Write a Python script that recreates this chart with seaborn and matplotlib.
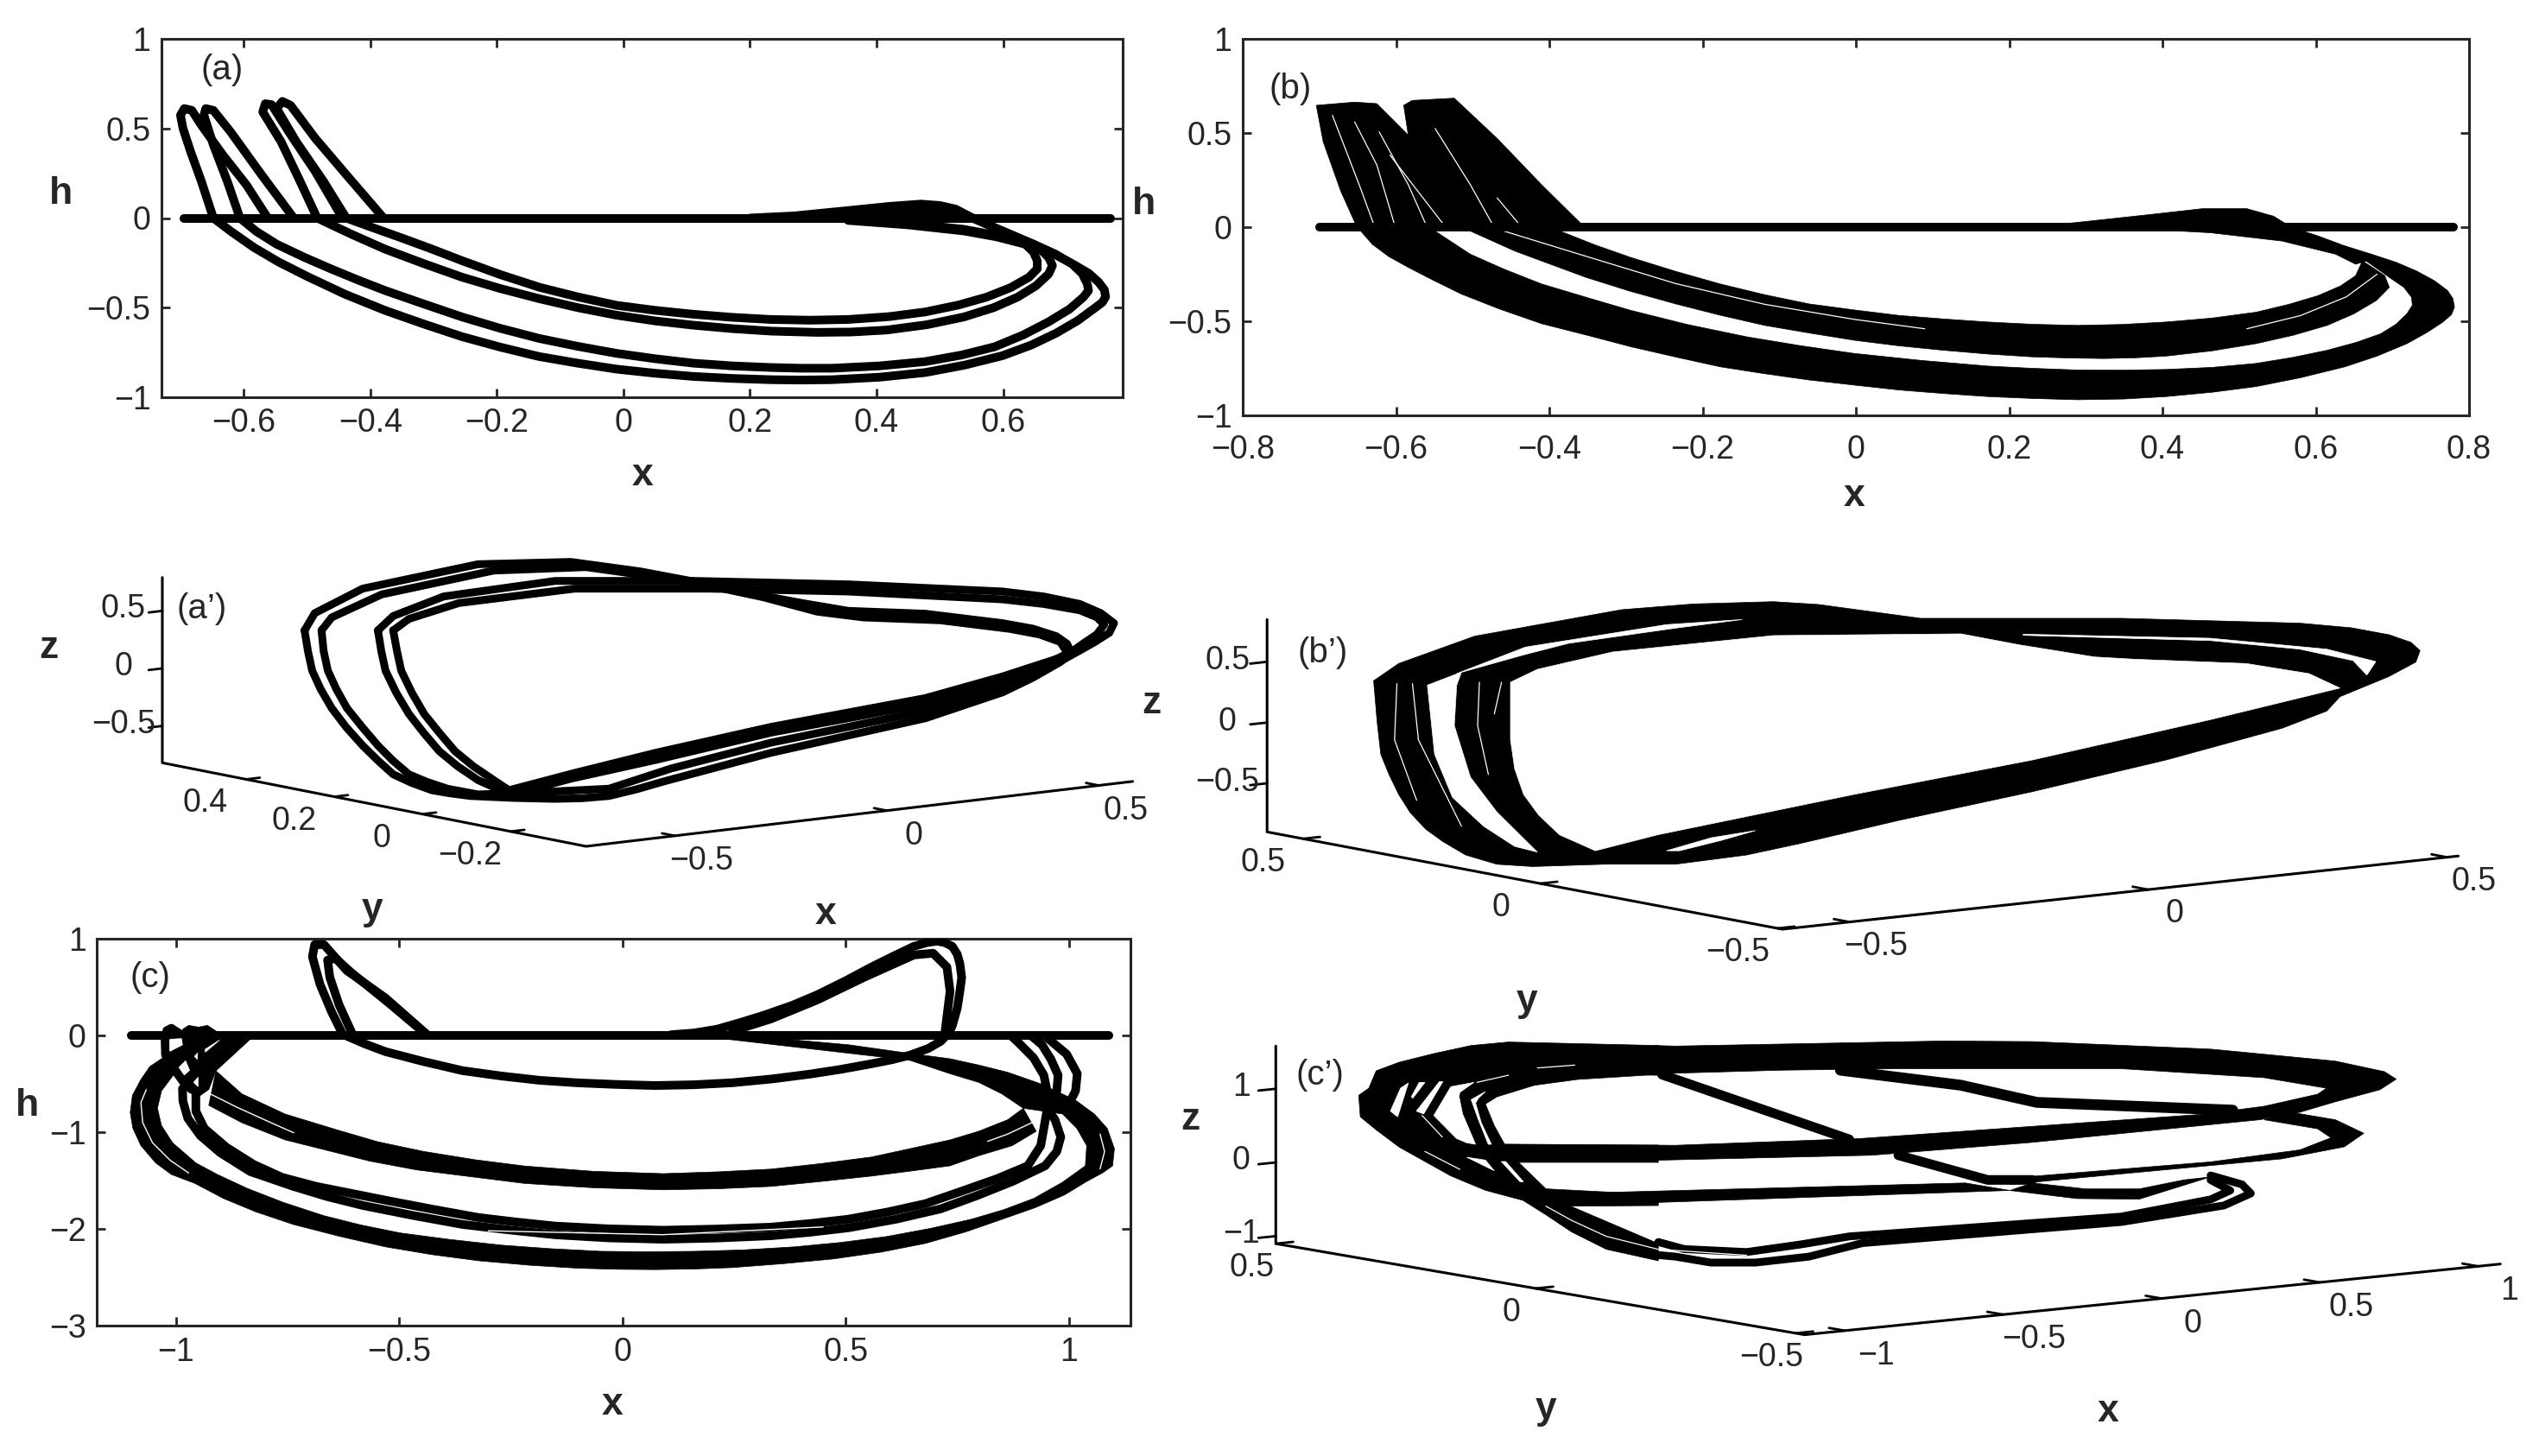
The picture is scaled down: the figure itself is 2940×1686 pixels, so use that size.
import numpy as np
import seaborn as sns
import matplotlib
matplotlib.use("Agg")
import matplotlib.pyplot as plt

W, H = 2940, 1686

# ---- panel (a): x, h
a_base = [(-0.695, 0), (0.77, 0)]
a_spike1 = [(-0.648, 0), (-0.667, 0.205), (-0.684, 0.371), (-0.696, 0.5), (-0.7, 0.574), (-0.694, 0.611), (-0.682, 0.601), (-0.667, 0.518), (-0.633, 0.352), (-0.596, 0.186), (-0.562, 0)]
a_spike2 = [(-0.606, 0), (-0.626, 0.205), (-0.648, 0.408), (-0.663, 0.574), (-0.66, 0.611), (-0.648, 0.601), (-0.621, 0.482), (-0.572, 0.242), (-0.521, 0)]
a_spike3 = [(-0.484, 0), (-0.511, 0.205), (-0.541, 0.426), (-0.57, 0.592), (-0.566, 0.638), (-0.556, 0.633), (-0.529, 0.482), (-0.487, 0.26), (-0.444, 0)]
a_spike4 = [(-0.438, 0), (-0.474, 0.205), (-0.517, 0.426), (-0.548, 0.611), (-0.539, 0.651), (-0.526, 0.629), (-0.487, 0.445), (-0.438, 0.242), (-0.379, 0)]
a_arc1 = [(-0.648, 0), (-0.62, -0.075), (-0.584, -0.164), (-0.545, -0.245), (-0.499, -0.327), (-0.44, -0.425), (-0.377, -0.515), (-0.315, -0.592), (-0.255, -0.662), (-0.195, -0.72), (-0.133, -0.773), (-0.072, -0.81), (-0.011, -0.843), (0.05, -0.866), (0.111, -0.884), (0.172, -0.895), (0.233, -0.902), (0.28, -0.904), (0.33, -0.902), (0.405, -0.888), (0.477, -0.862), (0.54, -0.82), (0.599, -0.768), (0.645, -0.708), (0.684, -0.642), (0.718, -0.572), (0.745, -0.502), (0.757, -0.47), (0.762, -0.44), (0.76, -0.4), (0.751, -0.358), (0.736, -0.31), (0.715, -0.266), (0.683, -0.205), (0.648, -0.146), (0.587, -0.054), (0.552, 0)]
a_arc2 = [(-0.606, 0), (-0.58, -0.075), (-0.548, -0.146), (-0.505, -0.218), (-0.462, -0.284), (-0.42, -0.345), (-0.377, -0.404), (-0.315, -0.48), (-0.255, -0.552), (-0.195, -0.615), (-0.133, -0.672), (-0.072, -0.716), (-0.011, -0.755), (0.05, -0.785), (0.111, -0.81), (0.172, -0.825), (0.233, -0.834), (0.28, -0.838), (0.33, -0.838), (0.405, -0.825), (0.477, -0.801), (0.535, -0.764), (0.587, -0.718), (0.632, -0.652), (0.672, -0.579), (0.705, -0.508), (0.727, -0.441), (0.735, -0.405), (0.733, -0.367), (0.725, -0.31), (0.709, -0.256), (0.682, -0.2), (0.648, -0.146), (0.587, -0.054), (0.552, 0)]
a_arc3 = [(-0.484, 0), (-0.43, -0.09), (-0.377, -0.173), (-0.315, -0.255), (-0.255, -0.33), (-0.195, -0.393), (-0.133, -0.45), (-0.072, -0.5), (-0.011, -0.542), (0.05, -0.574), (0.111, -0.598), (0.172, -0.617), (0.233, -0.631), (0.306, -0.638), (0.36, -0.636), (0.416, -0.625), (0.48, -0.595), (0.538, -0.552), (0.585, -0.5), (0.623, -0.441), (0.652, -0.378), (0.672, -0.312), (0.678, -0.265), (0.672, -0.22), (0.66, -0.178), (0.635, -0.137), (0.59, -0.097), (0.538, -0.063), (0.45, -0.03), (0.355, -0.007)]
a_arc4 = [(-0.438, 0), (-0.395, -0.055), (-0.352, -0.109), (-0.305, -0.17), (-0.255, -0.238), (-0.195, -0.315), (-0.133, -0.386), (-0.072, -0.44), (-0.011, -0.487), (0.05, -0.515), (0.111, -0.537), (0.172, -0.554), (0.233, -0.566), (0.295, -0.57), (0.355, -0.566), (0.42, -0.55), (0.477, -0.524), (0.53, -0.485), (0.574, -0.441), (0.612, -0.388), (0.641, -0.33), (0.654, -0.283), (0.654, -0.238), (0.648, -0.19), (0.635, -0.146), (0.59, -0.105), (0.538, -0.072), (0.45, -0.038), (0.355, -0.013)]
a_bump1 = [(0.552, 0), (0.525, 0.05), (0.5, 0.07), (0.47, 0.078), (0.42, 0.065), (0.35, 0.04), (0.27, 0.012), (0.2, 0)]
a_bump2 = [(0.545, 0), (0.5, 0.025), (0.46, 0.04), (0.38, 0.02), (0.3, 0.004)]

# ---- panel (b): edges of the dense bands
b_base = [(-0.7, 0), (0.78, 0)]
b_band1 = [(-0.648, -0.012), (-0.631, -0.091), (-0.61, -0.155), (-0.584, -0.214), (-0.55, -0.285), (-0.515, -0.355), (-0.465, -0.435), (-0.41, -0.513), (-0.35, -0.575), (-0.293, -0.636), (-0.235, -0.69), (-0.177, -0.742), (-0.12, -0.778), (-0.061, -0.812), (0, -0.84), (0.056, -0.865), (0.115, -0.884), (0.172, -0.9), (0.23, -0.91), (0.289, -0.917), (0.35, -0.913), (0.405, -0.9), (0.465, -0.877), (0.522, -0.847), (0.58, -0.8), (0.638, -0.742), (0.68, -0.685), (0.719, -0.619), (0.745, -0.56), (0.766, -0.504), (0.777, -0.465), (0.781, -0.425), (0.779, -0.38), (0.772, -0.337), (0.755, -0.285), (0.731, -0.232), (0.705, -0.187), (0.673, -0.144), (0.638, -0.1),
           (0.696, -0.267), (0.715, -0.32), (0.725, -0.373), (0.726, -0.415), (0.719, -0.46), (0.705, -0.515), (0.685, -0.566), (0.653, -0.612), (0.615, -0.654), (0.57, -0.692), (0.522, -0.724), (0.465, -0.745), (0.405, -0.756), (0.345, -0.76), (0.289, -0.759), (0.23, -0.75), (0.172, -0.738), (0.085, -0.708), (-0.002, -0.671), (-0.072, -0.63), (-0.142, -0.583), (-0.22, -0.517), (-0.293, -0.443), (-0.35, -0.375), (-0.41, -0.302), (-0.458, -0.225), (-0.503, -0.144), (-0.549, -0.021)]
b_band2 = [(-0.503, -0.021), (-0.445, -0.127), (-0.4, -0.195), (-0.352, -0.267), (-0.295, -0.34), (-0.235, -0.408), (-0.178, -0.467), (-0.119, -0.522), (-0.06, -0.563), (-0.002, -0.601), (0.055, -0.63), (0.114, -0.654), (0.172, -0.674), (0.23, -0.689), (0.277, -0.695), (0.324, -0.698), (0.365, -0.694), (0.405, -0.685), (0.465, -0.657), (0.522, -0.619), (0.57, -0.575), (0.615, -0.522), (0.65, -0.46), (0.679, -0.39), (0.696, -0.32), (0.69, -0.258), (0.661, -0.179),
           (0.652, -0.258), (0.632, -0.313), (0.603, -0.364), (0.565, -0.41), (0.522, -0.452), (0.465, -0.483), (0.405, -0.504), (0.347, -0.517), (0.289, -0.522), (0.23, -0.516), (0.172, -0.504), (0.115, -0.488), (0.056, -0.469), (-0.002, -0.44), (-0.061, -0.408), (-0.118, -0.36), (-0.177, -0.302), (-0.235, -0.235), (-0.293, -0.162), (-0.34, -0.095), (-0.386, -0.021)]
b_wedge = [(0.23, 0), (0.3, 0.03), (0.382, 0.066), (0.452, 0.098), (0.51, 0.098), (0.545, 0.058), (0.568, 0), (0.603, -0.047), (0.65, -0.118), (0.667, -0.179), (0.652, -0.197), (0.626, -0.144), (0.556, -0.074), (0.463, -0.03), (0.347, -0.004)]
b_spikes = [(-0.651, 0), (-0.672, 0.19), (-0.695, 0.453), (-0.704, 0.647), (-0.654, 0.664), (-0.625, 0.656), (-0.584, 0.489), (-0.59, 0.647), (-0.579, 0.673), (-0.524, 0.685), (-0.468, 0.471), (-0.41, 0.225), (-0.354, 0)]
b_slits = [[(-0.683, 0.594), (-0.648, 0.225), (-0.629, 0.014)],
           [(-0.654, 0.559), (-0.625, 0.33), (-0.602, 0.014)],
           [(-0.622, 0.506), (-0.584, 0.225), (-0.561, 0.014)],
           [(-0.608, 0.383), (-0.538, 0.014)],
           [(-0.549, 0.524), (-0.503, 0.225), (-0.474, 0.014)],
           [(-0.468, 0.155), (-0.439, 0.014)],
           [(-0.46, -0.02), (-0.352, -0.155), (-0.235, -0.3), (-0.119, -0.41), (-0.002, -0.49), (0.09, -0.54)],
           [(0.51, -0.54), (0.58, -0.47), (0.64, -0.37), (0.68, -0.25)]]

# ---- panel (c)
c_base = [(-1.1, 0), (1.09, 0)]
c_spike1 = [(-0.625, 0), (-0.651, 0.243), (-0.677, 0.529), (-0.694, 0.814), (-0.689, 0.939), (-0.668, 0.939), (-0.617, 0.671), (-0.53, 0.386), (-0.435, 0)]
c_spike2 = [(-0.603, 0), (-0.634, 0.314), (-0.655, 0.6), (-0.66, 0.779), (-0.642, 0.796), (-0.608, 0.654), (-0.522, 0.332), (-0.444, 0.029)]
c_lens1 = [(-0.617, -0.007), (-0.575, -0.09), (-0.53, -0.168), (-0.445, -0.27), (-0.358, -0.364), (-0.27, -0.42), (-0.185, -0.464), (-0.1, -0.49), (-0.012, -0.507), (0.074, -0.518), (0.16, -0.51), (0.247, -0.489), (0.335, -0.45), (0.42, -0.4), (0.49, -0.35), (0.558, -0.293), (0.605, -0.25), (0.644, -0.204), (0.685, -0.135), (0.713, -0.061), (0.73, 0.02), (0.739, 0.1), (0.75, 0.28), (0.756, 0.457), (0.76, 0.6), (0.756, 0.743), (0.75, 0.84), (0.739, 0.921), (0.722, 0.96), (0.705, 0.975), (0.682, 0.96), (0.653, 0.921), (0.605, 0.815), (0.558, 0.707), (0.5, 0.565), (0.437, 0.421), (0.38, 0.31), (0.316, 0.207), (0.262, 0.13), (0.212, 0.064), (0.16, 0.025), (0.109, 0.007)]
c_lens2 = [(0.722, 0.011), (0.734, 0.457), (0.727, 0.707), (0.696, 0.85), (0.653, 0.832), (0.541, 0.6), (0.437, 0.368), (0.333, 0.171), (0.247, 0.046)]
c_lower = [(-1.029, -0.232), (-1.058, -0.321), (-1.078, -0.455), (-1.097, -0.619), (-1.102, -0.797), (-1.096, -0.961), (-1.078, -1.14), (-1.045, -1.318), (-1.01, -1.437), (-0.957, -1.53), (-0.893, -1.686), (-0.82, -1.825), (-0.737, -1.954), (-0.635, -2.075), (-0.53, -2.186), (-0.428, -2.265), (-0.323, -2.329), (-0.21, -2.375), (-0.098, -2.407), (-0.01, -2.418), (0.074, -2.421), (0.16, -2.415), (0.247, -2.4), (0.36, -2.36), (0.472, -2.311), (0.58, -2.24), (0.679, -2.15), (0.77, -2.03), (0.851, -1.9), (0.925, -1.78), (0.99, -1.65), (1.04, -1.51), (1.076, -1.42), (1.098, -1.348), (1.102, -1.17), (1.086, -0.961), (1.057, -0.812), (1.018, -0.679), (0.992, -0.619), (0.937, -0.5), (0.863, -0.381), (0.798, -0.306), (0.734, -0.241), (0.644, -0.186), (0.506, -0.096), (0.333, -0.025), (0.161, 0),
           (0.644, -0.257), (0.734, -0.396), (0.798, -0.485), (0.85, -0.604), (0.898, -0.753), (0.986, -0.812), (1.018, -0.961), (1.04, -1.14), (1.037, -1.348), (0.985, -1.52), (0.921, -1.686), (0.855, -1.8), (0.782, -1.9), (0.69, -1.995), (0.592, -2.079), (0.49, -2.14), (0.385, -2.186), (0.27, -2.218), (0.161, -2.232), (0.055, -2.236), (-0.047, -2.232), (-0.16, -2.205), (-0.271, -2.168), (-0.385, -2.11), (-0.496, -2.043), (-0.585, -1.96), (-0.668, -1.864), (-0.76, -1.725), (-0.841, -1.579), (-0.907, -1.437), (-0.955, -1.318), (-1.007, -1.11), (-1.032, -0.931), (-1.041, -0.753), (-1.032, -0.574), (-1.003, -0.396)]
c_upper = [(-0.91, -0.366), (-0.852, -0.604), (-0.755, -0.813), (-0.639, -0.976), (-0.547, -1.1), (-0.444, -1.2), (-0.33, -1.285), (-0.219, -1.35), (-0.065, -1.405), (0.092, -1.429), (0.215, -1.41), (0.333, -1.382), (0.445, -1.325), (0.558, -1.257), (0.645, -1.17), (0.734, -1.08), (0.798, -0.991), (0.863, -0.872), (0.898, -0.753),
           (0.927, -0.991), (0.873, -1.14), (0.798, -1.244), (0.734, -1.348), (0.65, -1.4), (0.558, -1.454), (0.445, -1.51), (0.333, -1.561), (0.215, -1.585), (0.092, -1.596), (-0.065, -1.575), (-0.219, -1.53), (-0.34, -1.46), (-0.461, -1.39), (-0.565, -1.3), (-0.639, -1.214), (-0.755, -1.08), (-0.852, -0.902), (-0.926, -0.723)]
c_mass = [(-1.029, -0.217), (-0.987, -0.068), (-0.984, 0.066), (-0.971, 0.104), (-0.949, 0.086), (-0.929, 0.104), (-0.907, 0.036), (-0.833, -0.039), (-0.91, -0.366), (-0.926, -0.559), (-0.949, -0.634), (-0.971, -0.589), (-0.991, -0.5), (-1.007, -0.396)]
c_holes = [[(-1.013, -0.039), (-0.987, -0.033), (-0.985, -0.098), (-1.013, -0.164)],
           [(-0.993, -0.33), (-0.978, -0.262), (-0.969, -0.36), (-0.981, -0.41)],
           [(-0.96, -0.485), (-0.95, -0.432), (-0.95, -0.53)],
           [(-0.958, -0.217), (-0.951, -0.181), (-0.952, -0.247)],
           [(-0.934, -0.143), (-0.902, -0.048), (-0.916, -0.104), (-0.934, -0.173)]]
c_tip1 = [(-1.023, -0.202), (-1.024, -0.039), (-1.02, 0.05), (-1.01, 0.074), (-0.987, 0.006)]
c_mid1 = [(-0.985, -0.55), (-0.984, -0.679), (-0.973, -0.857), (-0.945, -1.036), (-0.9, -1.214), (-0.833, -1.408), (-0.737, -1.56), (-0.662, -1.665), (-0.582, -1.757), (-0.47, -1.86), (-0.358, -1.954), (-0.255, -2.01), (-0.15, -2.061), (-0.03, -2.093), (0.092, -2.107), (0.21, -2.095), (0.333, -2.071), (0.42, -2.035), (0.506, -1.989), (0.613, -1.9), (0.713, -1.793), (0.795, -1.655), (0.875, -1.507), (0.947, -1.348), (0.973, -1.2), (0.982, -1.05), (0.969, -0.872), (0.955, -0.78)]
c_mid2 = [(-0.955, -0.6), (-0.955, -0.783), (-0.936, -0.961), (-0.887, -1.155), (-0.826, -1.333), (-0.762, -1.467), (-0.686, -1.56), (-0.61, -1.63), (-0.53, -1.704), (-0.427, -1.795), (-0.323, -1.882), (-0.236, -1.93), (-0.15, -1.971), (-0.03, -2.0), (0.092, -2.014), (0.21, -2.002), (0.333, -1.982), (0.42, -1.945), (0.506, -1.9), (0.595, -1.825), (0.679, -1.739), (0.76, -1.61), (0.84, -1.48), (0.908, -1.348), (0.937, -1.14), (0.944, -0.961), (0.95, -0.8)]
c_right1 = [(0.87, 0), (0.889, -0.083), (0.921, -0.232), (0.944, -0.411), (0.95, -0.545), (0.945, -0.7)]
c_right2 = [(0.915, 0), (0.94, -0.098), (0.96, -0.247), (0.976, -0.411), (0.973, -0.574), (0.96, -0.72)]
c_right3 = [(0.945, 0), (0.995, -0.193), (1.019, -0.396), (1.015, -0.574), (1.005, -0.664)]
c_slits = [[(-1.066, -0.56), (-1.078, -0.693), (-1.074, -0.902), (-1.052, -1.11), (-1.013, -1.289), (-0.971, -1.422)],
           [(1.07, -1.02), (1.08, -1.2), (1.07, -1.38)],
           [(-0.923, -0.604), (-0.865, -0.738), (-0.794, -0.887), (-0.736, -1.006)],
           [(0.818, -1.095), (0.863, -1.02), (0.924, -0.887)],
           [(-0.3, -2.02), (0.09, -2.06), (0.45, -1.98)]]

# ---- panel (a'): orbit projected on the view plane (x units, z units)
ap_loop1 = [(-1.373, 0.33), (-1.349, 0.48), (-1.236, 0.693), (-0.964, 0.905), (-0.745, 0.925), (-0.582, 0.843), (-0.455, 0.755), (-0.345, 0.668), (-0.2, 0.568), (-0.091, 0.5), (0.091, 0.475), (0.273, 0.393), (0.345, 0.345), (0.4, 0.28), (0.425, 0.215), (0.433, 0.155), (0.425, 0.1), (0.409, 0.055), (0.345, -0.08), (0.273, -0.208), (0.091, -0.433), (-0.273, -0.733), (-0.4, -0.858), (-0.527, -0.983), (-0.59, -1.05), (-0.655, -1.108), (-0.72, -1.128), (-0.782, -1.133), (-0.88, -1.125), (-0.982, -1.108), (-1.03, -1.085), (-1.073, -1.058), (-1.12, -0.995), (-1.164, -0.92), (-1.2, -0.8), (-1.236, -0.67), (-1.275, -0.51), (-1.309, -0.345), (-1.335, -0.18), (-1.355, -0.02), (-1.365, 0.15), (-1.373, 0.33)]
ap_loop2 = [(-1.333, 0.33), (-1.309, 0.443), (-1.191, 0.643), (-0.927, 0.85), (-0.709, 0.88), (-0.564, 0.805), (-0.418, 0.718), (-0.291, 0.618), (-0.164, 0.493), (-0.055, 0.443), (0.127, 0.418), (0.291, 0.343), (0.36, 0.295), (0.409, 0.23), (0.427, 0.13), (0.36, 0.01), (0.273, -0.12), (0.091, -0.308), (-0.273, -0.558), (-0.545, -0.795), (-0.745, -0.958), (-0.873, -1.083), (-0.964, -1.095), (-1.036, -1.045), (-1.085, -0.985), (-1.127, -0.92), (-1.165, -0.8), (-1.2, -0.67), (-1.237, -0.51), (-1.273, -0.345), (-1.298, -0.18), (-1.318, -0.02), (-1.328, 0.15), (-1.333, 0.33)]
ap_loop3 = [(-1.2, 0.33), (-1.164, 0.455), (-1.045, 0.625), (-0.782, 0.76), (-0.455, 0.76), (-0.091, 0.73), (0.273, 0.668), (0.37, 0.625), (0.455, 0.56), (0.505, 0.48), (0.536, 0.393), (0.525, 0.31), (0.491, 0.23), (0.455, 0.155), (0.418, 0.08), (0.345, -0.04), (0.273, -0.158), (0.091, -0.37), (-0.273, -0.645), (-0.509, -0.87), (-0.655, -1.045), (-0.791, -1.07), (-0.891, -1.083), (-0.928, -1.03), (-0.964, -0.97), (-1.012, -0.85), (-1.055, -0.72), (-1.092, -0.56), (-1.127, -0.395), (-1.157, -0.21), (-1.182, -0.02), (-1.192, 0.15), (-1.2, 0.33)]
ap_loop4 = [(-1.164, 0.33), (-1.127, 0.43), (-1.009, 0.568), (-0.736, 0.693), (-0.418, 0.693), (-0.091, 0.668), (0.273, 0.6), (0.37, 0.56), (0.455, 0.505), (0.495, 0.445), (0.513, 0.38), (0.495, 0.295), (0.464, 0.218), (0.44, 0.155), (0.409, 0.093), (0.273, -0.07), (0.091, -0.258), (-0.273, -0.508), (-0.545, -0.733), (-0.736, -0.908), (-0.891, -1.058), (-0.927, -0.97), (-0.975, -0.85), (-1.018, -0.72), (-1.055, -0.56), (-1.091, -0.395), (-1.12, -0.21), (-1.145, -0.02), (-1.155, 0.15), (-1.164, 0.33)]

# ---- panel (b'): outline of the dense ribbon and the gaps in it
bp_outer = [(-1.296, 0.344), (-1.254, 0.486), (-1.127, 0.711), (-0.881, 0.929), (-0.761, 0.976), (-0.627, 0.995), (-0.552, 0.972), (-0.381, 0.858), (-0.045, 0.858), (0.254, 0.818), (0.34, 0.78), (0.403, 0.723), (0.44, 0.66), (0.455, 0.592), (0.448, 0.498), (0.403, 0.379), (0.321, 0.213), (0.299, 0.095), (0.224, -0.047), (0.03, -0.308), (-0.194, -0.569), (-0.418, -0.806), (-0.582, -0.995), (-0.672, -1.09), (-0.791, -1.166), (-0.91, -1.166), (-1.03, -1.185), (-1.09, -1.166), (-1.142, -1.09), (-1.18, -0.98), (-1.209, -0.877), (-1.235, -0.74), (-1.254, -0.592), (-1.27, -0.43), (-1.284, -0.261), (-1.29, 0)]
bp_hole = [(-1.067, 0.332), (-1.022, 0.438), (-0.896, 0.581), (-0.627, 0.716), (-0.313, 0.73), (-0.216, 0.64), (-0.09, 0.54), (-0.022, 0.521), (0.164, 0.486), (0.269, 0.403), (0.321, 0.284), (0.104, 0.024), (-0.194, -0.308), (-0.493, -0.592), (-0.821, -0.924), (-0.925, -1.055), (-0.95, -1.0), (-0.985, -0.924), (-1.02, -0.76), (-1.045, -0.592), (-1.06, -0.38), (-1.067, -0.142)]
bp_gap_left = [(-1.206, 0.308), (-1.149, 0.415), (-1.157, 0.308), (-1.161, -0.024), (-1.134, -0.45), (-1.09, -0.735), (-1.022, -1.066), (-1.06, -1.019), (-1.112, -0.853), (-1.164, -0.616), (-1.194, -0.261)]
bp_gap_top = [(-1.157, 0.403), (-1.042, 0.621), (-0.806, 0.806), (-0.679, 0.848), (-0.791, 0.777), (-0.97, 0.652), (-1.045, 0.557)]
bp_gap_right = [(-0.209, 0.727), (0.104, 0.694), (0.299, 0.604), (0.381, 0.502), (0.366, 0.391), (0.343, 0.51), (0.254, 0.604), (0.104, 0.675), (-0.209, 0.718)]
bp_gap_lens = [(-0.806, -1.055), (-0.731, -0.948), (-0.657, -0.889), (-0.716, -0.972), (-0.784, -1.055)]
bp_slits = [[(-1.257, 0.32), (-1.261, -0.142), (-1.224, -0.64)],
            [(-1.231, 0.32), (-1.221, -0.142), (-1.149, -0.853)],
            [(-1.119, 0.332), (-1.122, -0.024), (-1.104, -0.427)],
            [(-1.082, 0.332), (-1.094, 0.071)]]

# ---- panel (c')
cp_left = [(-2.535, 0.912), (-2.503, 1.009), (-2.48, 1.244), (-2.407, 1.361), (-2.298, 1.478), (-2.18, 1.588), (-2.062, 1.635), (-1.589, 1.588), (-1.589, 1.185), (-1.626, 1.185), (-1.844, 1.127), (-1.98, 1.048), (-2.098, 0.892), (-2.135, 0.794), (-2.107, 0.501), (-2.073, 0.236), (-1.589, 0.236), (-1.589, 0.001), (-2.03, 0.001), (-1.944, -0.358), (-1.589, -0.437), (-1.589, -0.585), (-1.866, -0.593), (-1.589, -1.101), (-1.589, -1.335), (-1.753, -1.179), (-1.862, -0.945), (-1.944, -0.71), (-2.016, -0.515), (-2.135, -0.378), (-2.244, -0.183), (-2.407, 0.208), (-2.48, 0.443), (-2.53, 0.619)]
cp_gaps = [[(-2.244, 1.029), (-2.171, 1.087), (-2.216, 0.951), (-2.218, 0.892), (-2.207, 0.658), (-2.166, 0.247), (-2.194, 0.267), (-2.226, 0.325), (-2.298, 0.638)],
           [(-2.18, 0.853), (-2.135, 0.962), (-2.157, 0.873), (-2.166, 0.806), (-2.148, 0.54), (-2.116, 0.247), (-2.126, 0.247), (-2.157, 0.579)],
           [(-2.353, 0.697), (-2.28, 1.099), (-2.269, 1.099), (-2.33, 0.658)],
           [(-2.369, 0.892), (-2.344, 1.087), (-2.326, 1.087), (-2.364, 0.873)],
           [(-2.435, 0.697), (-2.403, 1.009), (-2.378, 1.08), (-2.412, 0.619)],
           [(-2.194, 0.071), (-2.135, 0.032), (-2.107, -0.112)],
           [(-2.085, 0.013), (-2.071, 0.013), (-2.015, -0.261), (-2.026, -0.261)]]
cp_slits = [[(-2.335, 0.638), (-2.271, 0.345)], [(-2.326, 0.15), (-2.216, -0.093)],
            [(-1.944, -0.593), (-1.862, -0.788), (-1.753, -1.003), (-1.589, -1.179), (-1.31, -1.26)],
            [(-1.971, 1.283), (-1.853, 1.322)], [(-2.162, 1.087), (-2.062, 1.185)]]
cp_top = [(-1.6, 1.588), (-1.535, 1.58), (-0.69, 1.649), (-0.408, 1.641), (0.155, 1.539), (0.549, 1.376), (0.704, 1.233), (0.741, 1.131), (0.69, 0.988), (0.549, 0.824), (0.437, 0.682),
          (0.324, 0.763), (0.493, 0.927), (0.521, 1.008), (0.324, 1.151), (-0.127, 1.273), (-0.831, 1.273), (-1.197, 1.253), (-1.535, 1.212), (-1.6, 1.185)]
cp_mid = [(-2.211, 0.253), (-1.535, 0.233), (-0.944, 0.327), (0.127, 0.653), (0.324, 0.763), (0.437, 0.682), (0.31, 0.58), (-0.408, 0.273), (-0.915, 0.098), (-1.817, 0.008), (-2.239, 0.049)]
cp_tip2 = [(0.408, 0.682), (0.549, 0.58), (0.639, 0.396), (0.577, 0.212), (0.38, 0.049), (-0.127, -0.155), (-0.479, -0.298), (-0.408, -0.188), (0.155, 0.008), (0.437, 0.171), (0.535, 0.335), (0.493, 0.457), (0.324, 0.58)]
cp_low = [(-0.62, -0.278), (-1.873, -0.42), (-1.944, -0.4), (-1.986, -0.502), (-1.873, -0.584), (-0.479, -0.38)]
cp_small = [(-0.479, -0.38), (-0.268, -0.49), (-0.07, -0.498), (0.155, -0.196), (0.07, -0.237), (-0.07, -0.359), (-0.239, -0.359), (-0.408, -0.278)]
cp_diag1 = [(-1.577, 1.192), (-0.986, 0.314)]
cp_diag2 = [(-0.831, 0.098), (-0.549, -0.237), (-0.408, -0.237)]
cp_diag3 = [(-1.014, 1.253), (-0.634, 1.049), (-0.394, 0.816), (0.225, 0.71)]
cp_l4 = [(-1.589, -1.257), (-1.535, -1.278), (-1.423, -1.359), (-1.282, -1.359), (-1.113, -1.278), (-0.944, -1.094), (-0.127, -0.808), (0.197, -0.584), (0.282, -0.42), (0.254, -0.298), (0.155, -0.176)]
cp_l5 = [(-1.589, -1.08), (-1.507, -1.176), (-1.31, -1.216), (-1.141, -1.114), (-0.986, -1.004), (-0.127, -0.735), (0.155, -0.502), (0.217, -0.38), (0.155, -0.237)]

# 3d box settings: limits, slants and where each panel sits (px of origin, px per unit)
ap_view = dict(xlim=(-0.709, 0.58), ylim=(-0.371, 0.59), zlim=(-0.82, 0.79), uy=1.04, vx=0.4375, vy=0.755,
               origin=(1026.8, 774), scale=(491, 133.3), rect=(100, 1400, 640, 1060),
               xt=[-0.5, 0, 0.5], yt=[-0.2, 0, 0.2, 0.4], zt=[-0.5, 0, 0.5],
               xoff=(31, 29), yoff=(-47, 28), zoff=(-45, -2))
bp_view = dict(xlim=(-0.612, 0.519), ylim=(-0.51, 0.576), zlim=(-0.9, 0.848), uy=0.794, vx=0.533, vy=0.7376,
               origin=(2487.4, 836.7), scale=(692, 140.7), rect=(1400, 2940, 660, 1140),
               xt=[-0.5, 0, 0.5], yt=[-0.5, 0, 0.5], zt=[-0.5, 0, 0.5],
               xoff=(31, 28), yoff=(-46, 28), zoff=(-46, -1))
cp_view = dict(xlim=(-1.127, 1.07), ylim=(-0.517, 0.5), zlim=(-1.102, 1.58), uy=1.642, vx=0.437, vy=1.216,
               origin=(2502.9, 1346.1), scale=(366.7, 85.3), rect=(1400, 2940, 1190, 1686),
               xt=[-1, -0.5, 0, 0.5, 1], yt=[-0.5, 0, 0.5], zt=[-1, 0, 1],
               xoff=(36, 29), yoff=(-28, 28), zoff=(-40, -2))

sns.set_style("ticks")
plt.rcParams['font.family'] = ['Liberation Sans', 'DejaVu Sans']
plt.rcParams['axes.linewidth'] = 2.2
plt.rcParams['xtick.direction'] = 'in'
plt.rcParams['ytick.direction'] = 'in'

TICK_SIZE = 27
LABEL_SIZE = 32
LW = 7.2

fig = plt.figure(figsize=(W / 100, H / 100), dpi=100)


def px_axes(x0, x1, y0, y1):
    return fig.add_axes([x0 / W, 1 - y1 / H, (x1 - x0) / W, (y1 - y0) / H])


def line(ax, pts, lw=LW, color='k', z=3):
    pts = np.array(pts, dtype=float)
    sns.lineplot(x=pts[:, 0], y=pts[:, 1], sort=False, estimator=None, errorbar=None, color=color, lw=lw,
                 ax=ax, zorder=z, solid_capstyle='round', solid_joinstyle='round')


def blob(ax, pts, color='k', z=2):
    pts = np.array(pts, dtype=float)
    ax.fill(pts[:, 0], pts[:, 1], color=color, lw=0.5, zorder=z)


def fmt(v):
    return '0' if v == 0 else ('%g' % v).replace('-', '\u2212')


def setup_2d(ax, xlim, ylim, xt, yt, xpad=9):
    ax.set_xlim(*xlim)
    ax.set_ylim(*ylim)
    ax.set_xticks(xt)
    ax.set_yticks(yt)
    ax.set_xticklabels([fmt(v) for v in xt], fontsize=TICK_SIZE)
    ax.set_yticklabels([fmt(v) for v in yt], fontsize=TICK_SIZE)
    ax.tick_params(length=7, width=2, top=True, right=True, pad=9)
    ax.tick_params(axis='x', pad=xpad)


def label(text, px, py, bold=True, size=LABEL_SIZE):
    fig.text(px / W, 1 - py / H, text, fontsize=size, fontweight='bold' if bold else 'normal',
             ha='center', va='center')


def project(x, y, z, v):
    # oblique view: x runs up to the right, y up to the left, z straight up
    u = x - v['uy'] * (y - v['ylim'][0])
    w = v['vx'] * x + v['vy'] * (y - v['ylim'][1]) + z
    return u, w


def setup_3d(v):
    x0, x1, y0, y1 = v['rect']
    ax = px_axes(x0, x1, y0, y1)
    ox, oy = v['origin']
    sx, sy = v['scale']
    ax.set_xlim((x0 - ox) / sx, (x1 - ox) / sx)
    ax.set_ylim((oy - y1) / sy, (oy - y0) / sy)
    ax.axis('off')
    ax.patch.set_alpha(0)
    xa, xb = v['xlim']
    ya, yb = v['ylim']
    za, zb = v['zlim']
    # the vx term is referred to xa so the z axis itself sits on z values
    shift = v['vx'] * xa

    def pr(x, y, z):
        u, w = project(x, y, z, v)
        return u, w - shift

    box = [pr(xa, yb, zb), pr(xa, yb, za), pr(xa, ya, za), pr(xb, ya, za)]
    line(ax, box, lw=2.2, z=1)
    tx = 0.03 * (yb - ya)
    ty = 0.025 * (xb - xa)
    tz = 0.025 * (xb - xa)
    for ticks, off, end, at in [(v['xt'], v['xoff'], lambda t: pr(t, ya + tx, za), lambda t: pr(t, ya, za)),
                                (v['yt'], v['yoff'], lambda t: pr(xa + ty, t, za), lambda t: pr(xa, t, za)),
                                (v['zt'], v['zoff'], lambda t: pr(xa - tz, yb, t), lambda t: pr(xa, yb, t))]:
        for t in ticks:
            a = at(t)
            line(ax, [a, end(t)], lw=2, z=1)
            ax.annotate(fmt(t), a, xytext=(off[0], -off[1]), textcoords='offset pixels', fontsize=TICK_SIZE,
                        ha='center', va='center')
    return ax


# panel (a)
ax = px_axes(187, 1300, 45, 460)
setup_2d(ax, (-0.73, 0.789), (-1, 1), [-0.6, -0.4, -0.2, 0, 0.2, 0.4, 0.6], [-1, -0.5, 0, 0.5, 1])
for c in [a_base, a_spike1, a_spike2, a_spike3, a_spike4, a_arc1, a_arc2, a_arc3, a_arc4, a_bump1, a_bump2]:
    line(ax, c)

# panel (b)
ax = px_axes(1439, 2859, 45, 481)
setup_2d(ax, (-0.8, 0.8), (-1, 1), [-0.8, -0.6, -0.4, -0.2, 0, 0.2, 0.4, 0.6, 0.8], [-1, -0.5, 0, 0.5, 1], xpad=16)
for c in [b_band1, b_band2, b_wedge, b_spikes]:
    blob(ax, c)
for c in b_slits:
    line(ax, c, lw=0.9, color='w')
line(ax, b_base)

# panel (c)
ax = px_axes(112, 1309, 1087, 1535)
setup_2d(ax, (-1.177, 1.138), (-3, 1), [-1, -0.5, 0, 0.5, 1], [-3, -2, -1, 0, 1])
for c in [c_lower, c_upper, c_mass]:
    blob(ax, c)
for c in c_holes:
    blob(ax, c, color='w', z=3.5)
for c in c_slits:
    line(ax, c, lw=1, color='w', z=3.5)
for c in [c_base, c_spike1, c_spike2, c_lens1, c_lens2, c_mid1, c_mid2, c_right1, c_right2, c_right3, c_tip1]:
    line(ax, c, lw=LW)

# panel (a')
ax = setup_3d(ap_view)
for c in [ap_loop1, ap_loop2, ap_loop3, ap_loop4]:
    line(ax, c, lw=LW - 0.7)

# panel (b')
ax = setup_3d(bp_view)
blob(ax, bp_outer)
for c in [bp_hole, bp_gap_left, bp_gap_top, bp_gap_right, bp_gap_lens]:
    blob(ax, c, color='w', z=2.5)
for c in bp_slits:
    line(ax, c, lw=0.9, color='w')

# panel (c')
ax = setup_3d(cp_view)
for c in [cp_left, cp_top, cp_mid, cp_tip2, cp_low, cp_small]:
    blob(ax, c)
line(ax, cp_diag1, lw=8)
line(ax, cp_diag2, lw=8)
line(ax, cp_diag3, lw=9)
for c in [cp_l4, cp_l5]:
    line(ax, c, lw=LW - 0.7)
for c in cp_gaps:
    blob(ax, c, color='w', z=3.5)
for c in cp_slits:
    line(ax, c, lw=0.9, color='w', z=3.5)

# panel letters and axis names
for t, px, py in [("(a)", 257, 81), ("(b)", 1494, 103), ("(a\u2019)", 234, 705), ("(b\u2019)", 1532, 756),
                  ("(c)", 174, 1132), ("(c\u2019)", 1528, 1245)]:
    label(t, px, py, bold=False, size=TICK_SIZE + 2)
for t, px, py in [("h", 71, 225), ("x", 744, 551), ("h", 1324, 236), ("x", 2147, 574), ("z", 56, 750), ("y", 431, 1054),
                  ("x", 956, 1058), ("z", 1333, 814), ("y", 1768, 1159), ("h", 32, 1281), ("x", 709, 1626),
                  ("z", 1378, 1297), ("y", 1790, 1631), ("x", 2441, 1635)]:
    label(t, px, py)

fig.savefig("out.png", dpi=100)
